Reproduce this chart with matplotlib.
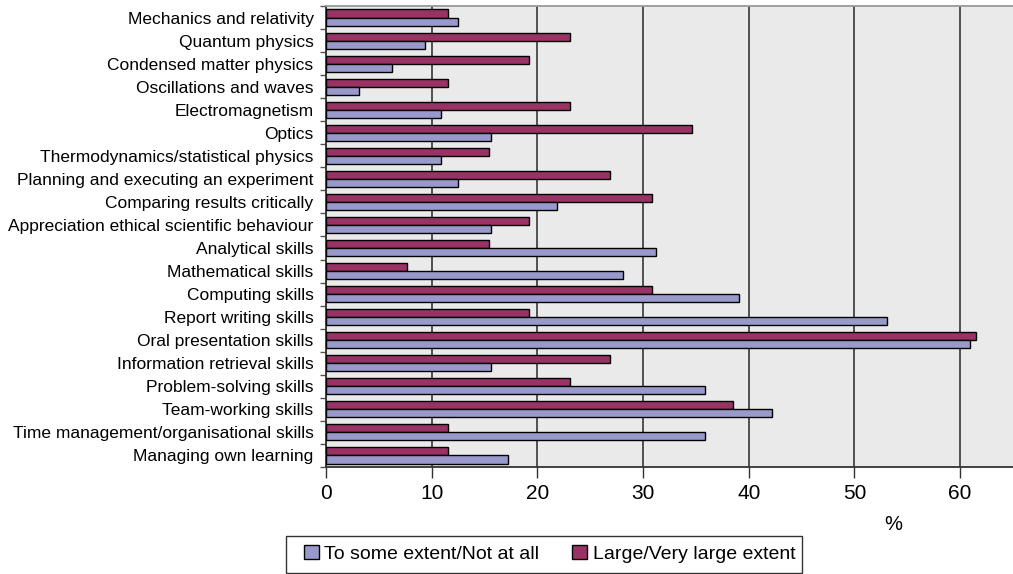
import numpy as np
import matplotlib.pyplot as plt
from matplotlib.patches import Patch, Rectangle

plt.rcParams['font.family'] = ['Liberation Sans', 'DejaVu Sans']

categories = [
    'Mechanics and relativity',
    'Quantum physics',
    'Condensed matter physics',
    'Oscillations and waves',
    'Electromagnetism',
    'Optics',
    'Thermodynamics/statistical physics',
    'Planning and executing an experiment',
    'Comparing results critically',
    'Appreciation ethical scientific behaviour',
    'Analytical skills',
    'Mathematical skills',
    'Computing skills',
    'Report writing skills',
    'Oral presentation skills',
    'Information retrieval skills',
    'Problem-solving skills',
    'Team-working skills',
    'Time management/organisational skills',
    'Managing own learning',
]

some_extent = [12.5, 9.4, 6.2, 3.1, 10.9, 15.6, 10.9, 12.5, 21.9, 15.6,
               31.2, 28.1, 39.1, 53.1, 60.9, 15.6, 35.9, 42.2, 35.9, 17.2]
large_extent = [11.5, 23.1, 19.2, 11.5, 23.1, 34.6, 15.4, 26.9, 30.8, 19.2,
                15.4, 7.7, 30.8, 19.2, 61.5, 26.9, 23.1, 38.5, 11.5, 11.5]

light = '#9999CC'
dark = '#993366'

W, H = 1013, 574
fig = plt.figure(figsize=(W / 100, H / 100), dpi=100)
ax = fig.add_axes([326 / W, 1 - 467 / H, 1 - 326 / W, 461 / H])
ax.set_facecolor('#EAEAEA')

y = np.arange(len(categories))[::-1]
h = 0.35
ax.barh(y + h / 2, large_extent, height=h, color=dark, edgecolor='black', linewidth=1, zorder=3)
ax.barh(y - h / 2, some_extent, height=h, color=light, edgecolor='black', linewidth=1, zorder=3)

ax.set_xlim(0, 65)
ax.set_ylim(-0.5, len(categories) - 0.5)
ax.set_xticks(range(0, 70, 10))
ax.set_yticks(y)
ax.set_yticklabels(categories, fontsize=12.5)
ax.set_yticks(np.arange(-0.5, len(categories), 1), minor=True)
ax.tick_params(axis='y', which='major', length=0, pad=9)
ax.tick_params(axis='y', which='minor', length=4, width=1, color='#555555')
ax.tick_params(axis='x', length=8, width=1, labelsize=15, pad=4, color='#333333')

ax.grid(axis='x', color='#444444', linewidth=1.3, zorder=1)
for side in ['left', 'bottom']:
    ax.spines[side].set_color('#333333')
    ax.spines[side].set_linewidth(1.3)
ax.spines['top'].set_color('#999999')
ax.spines['top'].set_linewidth(1.3)
ax.spines['right'].set_visible(False)

fig.text(893 / W, 1 - 524 / H, '%', fontsize=14.5, ha='center', va='center')

# legend box drawn separately so its size is fixed
fig.patches.append(Rectangle((286 / W, 1 - 573 / H), 516 / W, 37 / H, transform=fig.transFigure,
                             facecolor='white', edgecolor='#333333', linewidth=1))
handles = [Patch(facecolor=light, edgecolor='black', label='To some extent/Not at all'),
           Patch(facecolor=dark, edgecolor='black', label='Large/Very large extent')]
fig.legend(handles=handles, loc='center left', bbox_to_anchor=(304 / W, 1 - 554 / H),
           ncol=2, fontsize=14, frameon=False,
           handlelength=0.75, handleheight=0.75, handletextpad=0.3, columnspacing=1.7,
           borderpad=0, borderaxespad=0)

fig.savefig('out.png', dpi=100)
